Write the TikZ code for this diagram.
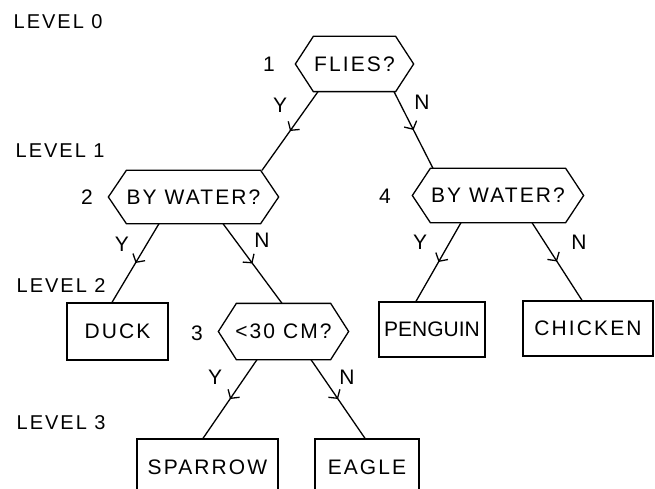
\documentclass[tikz,border=0pt]{standalone}
\usepackage{fontspec}
\setmainfont{Liberation Sans}[LetterSpace=10]
\usetikzlibrary{arrows.meta,decorations.markings}

\begin{document}
\begin{tikzpicture}[x=1pt, y=-1pt, line width=1.3pt,
  txt/.style={font=\fontsize{21}{24}\selectfont, inner sep=0pt},
  question/.style={txt, rectangle, draw=none},
  leaf/.style={txt, rectangle, draw},
  lvl/.style={txt, font=\fontsize{20}{24}\selectfont, anchor=west},
  branch/.style={postaction={decorate},
    decoration={markings, mark=at position 0.5 with
      {\arrow{Straight Barb[length=6pt,width=14pt]}}}}
]
\useasboundingbox (0,0) rectangle (655,489);

% level captions
\node[lvl] (l0) at (13,22) {LEVEL 0};
\node[lvl] (l1) at (15,151) {LEVEL 1};
\node[lvl] (l2) at (16,286) {LEVEL 2};
\node[lvl] (l3) at (16,423) {LEVEL 3};

% question nodes (outline drawn below)
\node[question, minimum width=117pt, minimum height=54pt] (q1) at (354.5,64) {FLIES?};
\node[question, minimum width=169pt, minimum height=52pt] (q2) at (193.5,197) {BY WATER?};
\node[question, minimum width=170pt, minimum height=53pt] (q4) at (498,195.5) {BY WATER?};
\node[question, minimum width=129pt, minimum height=55pt] (q3) at (283.5,331.5) {<30 CM?};

\foreach \n in {q1,q2,q3,q4}
  \draw (\n.west) -- ([xshift=18pt]\n.north west) -- ([xshift=-18pt]\n.north east)
        -- (\n.east) -- ([xshift=-18pt]\n.south east) -- ([xshift=18pt]\n.south west)
        -- cycle;

% question numbers
\node[txt] (n1) at (269,64) {1};
\node[txt] (n2) at (87,197) {2};
\node[txt] (n4) at (385,196) {4};
\node[txt] (n3) at (197,333) {3};

% answers
\node[leaf, minimum width=101pt, minimum height=57pt] (duck) at (117.5,331.5) {DUCK};
\node[leaf, minimum width=106pt, minimum height=55pt] (penguin) at (432,329.5)
  {\addfontfeature{LetterSpace=0}PENGUIN};
\node[leaf, minimum width=130pt, minimum height=55pt] (chicken) at (588,328.5) {CHICKEN};
\node[leaf, minimum width=141pt, minimum height=57pt] (sparrow) at (207.5,467.5) {SPARROW};
\node[leaf, minimum width=104pt, minimum height=57pt] (eagle) at (367,467.5) {EAGLE};

% branches
\draw[branch] ([xshift=-36.5pt]q1.south) -- ([xshift=68.5pt]q2.north);
\draw[branch] ([xshift=39.5pt]q1.south) -- ([xshift=-65pt]q4.north);
\draw[branch] ([xshift=-34.5pt]q2.south) -- ([xshift=-5.5pt]duck.north);
\draw[branch] ([xshift=29.5pt]q2.south) -- ([xshift=-1.5pt]q3.north);
\draw[branch] ([xshift=-37pt]q4.south) -- ([xshift=-16pt]penguin.north);
\draw[branch] ([xshift=34pt]q4.south) -- ([xshift=-6pt]chicken.north);
\draw[branch] ([xshift=-26.5pt]q3.south) -- ([xshift=-4.5pt]sparrow.north);
\draw[branch] ([xshift=27.5pt]q3.south) -- ([xshift=-2pt]eagle.north);

% branch answers
\node[txt] (y1) at (280,105) {Y};
\node[txt] (m1) at (422,102) {N};
\node[txt] (y2) at (122,244) {Y};
\node[txt] (m2) at (262,240) {N};
\node[txt] (y4) at (420,242) {Y};
\node[txt] (m4) at (579,242) {N};
\node[txt] (y3) at (215,377) {Y};
\node[txt] (m3) at (347,377) {N};
\end{tikzpicture}
\end{document}
